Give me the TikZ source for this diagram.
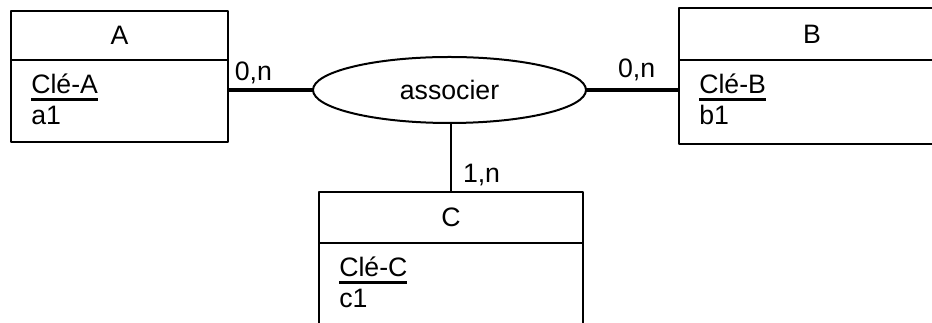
\documentclass[tikz,border=0pt]{standalone}
\usepackage{fontspec}
\setmainfont{Liberation Sans}
\usetikzlibrary{shapes.geometric}
% souligne la cle
\newcommand\cle[1]{\setbox0\hbox{#1}\rlap{\rule[-5.6pt]{\wd0}{2.6pt}}\box0}
\tikzset{
	boite/.style={draw, line width=1.5pt, inner sep=0pt, outer sep=0pt, anchor=north west},
	card/.style={inner sep=0pt},
}
\begin{document}
\begin{tikzpicture}[x=.75pt, y=-.75pt, font=\fontsize{20}{24}\selectfont, line join=round]
	\useasboundingbox (0,0) rectangle (932,323);
	\clip (0,0) rectangle (932,323);
	% entites : nom/x/y/largeur/entete/corps/attribut
	\foreach \n/\x/\y/\w/\h/\c/\a in {A/11/11/217/49/82/a1, B/679/8/266/52/84/b1, C/319/192/264/51/83/c1}{
		\node[boite, minimum width={\w*.75pt}, minimum height={\h*.75pt}] (h\n) at (\x,\y) {\n};
		\node[boite, minimum width={\w*.75pt}, minimum height={\c*.75pt}] (b\n) at (h\n.south west) {};
		\node[inner sep=0pt, anchor=base west] (k\n) at ([shift={(20,34)}]b\n.north west) {\cle{Clé-\n}};
		\node[inner sep=0pt, anchor=base west] (a\n) at ([shift={(0,31)}]k\n.base west) {\a};
	}
	\node[ellipse, draw, line width=1.5pt, inner sep=0pt, outer sep=0pt, minimum width=273*.75pt, minimum height=66*.75pt] (assoc) at (449.5,90) {associer};
	% pattes
	\draw[line width=2.7pt] (bA.east |- assoc.west)node[card, anchor=base west, shift={(5,-9)}]{0,n} -- (assoc.west);
	\draw[line width=2.7pt] (assoc.east) -- (bB.west |- assoc.east)node[card, anchor=base east, shift={(-22,-12)}]{0,n};
	\draw[line width=1.5pt] (hC.north |- assoc.south) -- (hC.north)node[card, anchor=base west, shift={(11,-9)}]{1,n};
\end{tikzpicture}
\end{document}
